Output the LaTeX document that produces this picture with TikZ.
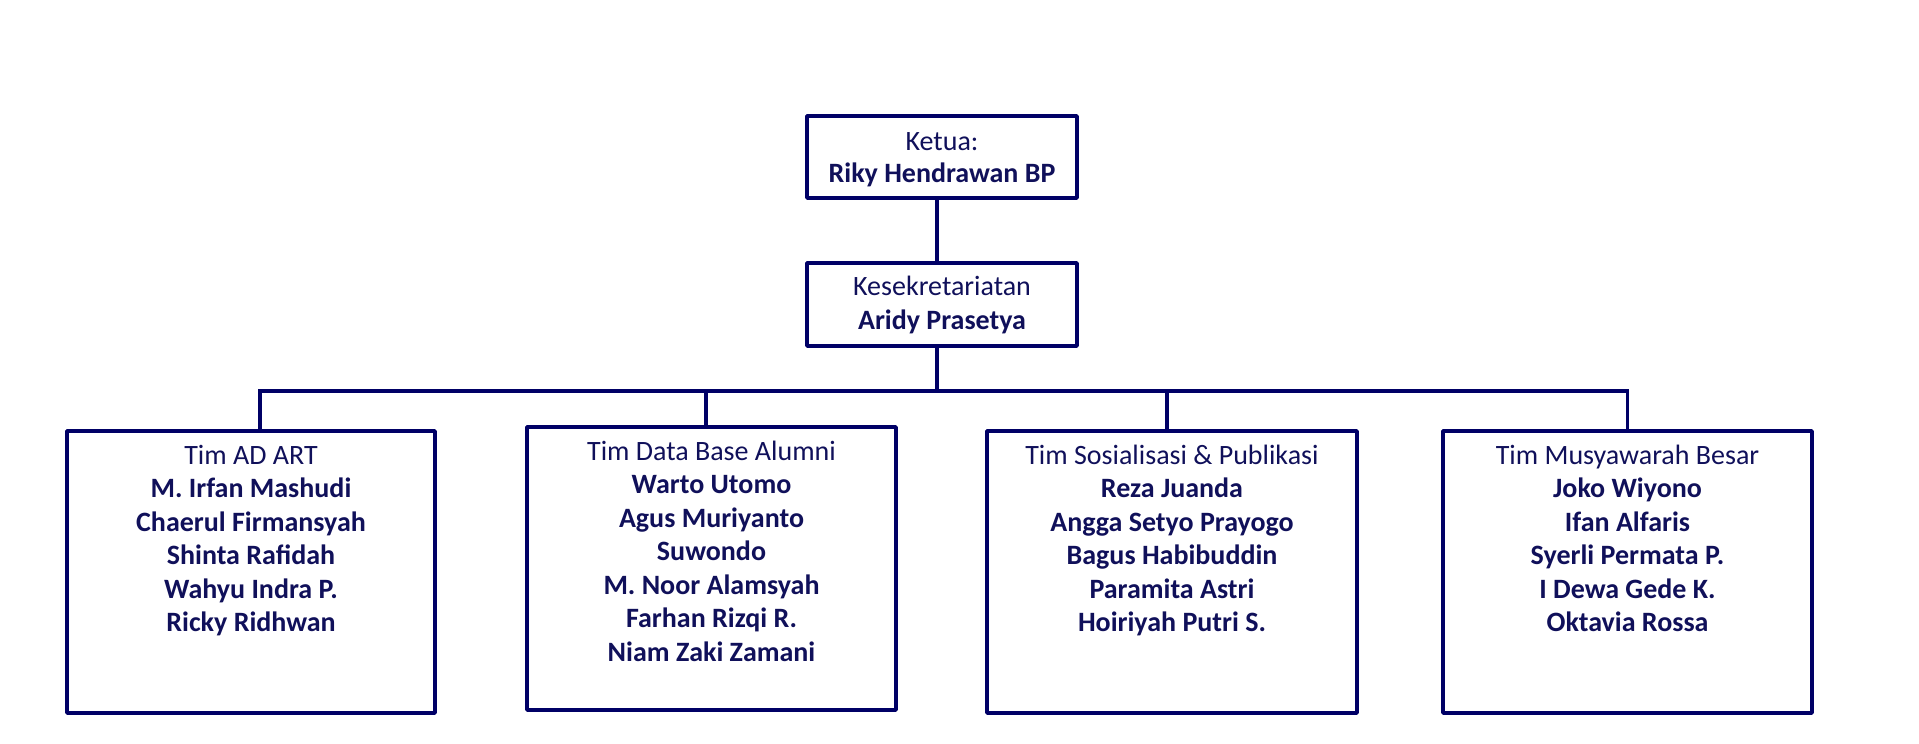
\documentclass[tikz,border=0pt]{standalone}
\usepackage{fontspec}
\setmainfont{Carlito}
\definecolor{navy}{RGB}{0,0,102}
\definecolor{ink}{RGB}{16,16,90}
\begin{document}
\begin{tikzpicture}[x=1pt,y=-1pt,
  box/.style={draw=navy,line width=3.6pt,line join=round,rectangle,inner sep=0pt},
  txt/.style={anchor=north,inner sep=0pt,align=center,text=ink,font=\fontsize{28}{33.5}\selectfont},
  conn/.style={draw=navy,line width=3.6pt}]
\useasboundingbox (0,0) rectangle (1919,744);
% top boxes
\node[box,minimum width=270pt,minimum height=82pt] (ketua) at (942,157) {};
\node[txt,font=\fontsize{28}{32}\selectfont] (ketuat) at ([yshift=-13.5]ketua.north) {\strut Ketua:\\\textbf{Riky Hendrawan BP}};
\node[box,minimum width=270pt,minimum height=83pt] (kesek) at (942,304.5) {};
\node[txt] (kesekt) at ([yshift=-11]kesek.north) {\strut Kesekretariatan\\\textbf{Aridy Prasetya}};
% team boxes
\node[box,minimum width=368pt,minimum height=282pt] (b1) at (251,572) {};
\node[txt] (b1t) at ([yshift=-11.5]b1.north) {\strut Tim AD ART\\\textbf{M. Irfan Mashudi}\\\textbf{Chaerul Firmansyah}\\\textbf{Shinta Rafidah}\\\textbf{Wahyu Indra P.}\\\textbf{Ricky Ridhwan}};
\node[box,minimum width=369pt,minimum height=283pt] (b2) at (711.5,568.5) {};
\node[txt] (b2t) at ([yshift=-11.5]b2.north) {\strut Tim Data Base Alumni\\\textbf{Warto Utomo}\\\textbf{Agus Muriyanto}\\\textbf{Suwondo}\\\textbf{M. Noor Alamsyah}\\\textbf{Farhan Rizqi R.}\\\textbf{Niam Zaki Zamani}};
\node[box,minimum width=370pt,minimum height=282pt] (b3) at (1172,572) {};
\node[txt] (b3t) at ([yshift=-11.5]b3.north) {\strut Tim Sosialisasi \& Publikasi\\\textbf{Reza Juanda}\\\textbf{Angga Setyo Prayogo}\\\textbf{Bagus Habibuddin}\\\textbf{Paramita Astri}\\\textbf{Hoiriyah Putri S.}};
\node[box,minimum width=369pt,minimum height=282pt] (b4) at (1627.5,572) {};
\node[txt] (b4t) at ([yshift=-11.5]b4.north) {\strut Tim Musyawarah Besar\\\textbf{Joko Wiyono}\\\textbf{Ifan Alfaris}\\\textbf{Syerli Permata P.}\\\textbf{I Dewa Gede K.}\\\textbf{Oktavia Rossa}};
% connectors
\coordinate (busL) at (260,391);
\coordinate (busR) at (1627.5,391);
\draw[conn] ([xshift=-5]ketua.south) -- ([xshift=-5]kesek.north);
\draw[conn,line cap=rect] (busL) -- (busR);
\draw[conn] ([xshift=-5]kesek.south) -- ([xshift=-5]kesek.south |- busL);
\draw[conn] (b1.north -| busL) -- (busL);
\draw[conn] ([xshift=-5.5]b2.north) -- ([xshift=-5.5]b2.north |- busL);
\draw[conn] ([xshift=-5]b3.north) -- ([xshift=-5]b3.north |- busL);
\draw[conn] (b4.north) -- (b4.north |- busL);
\end{tikzpicture}
\end{document}
